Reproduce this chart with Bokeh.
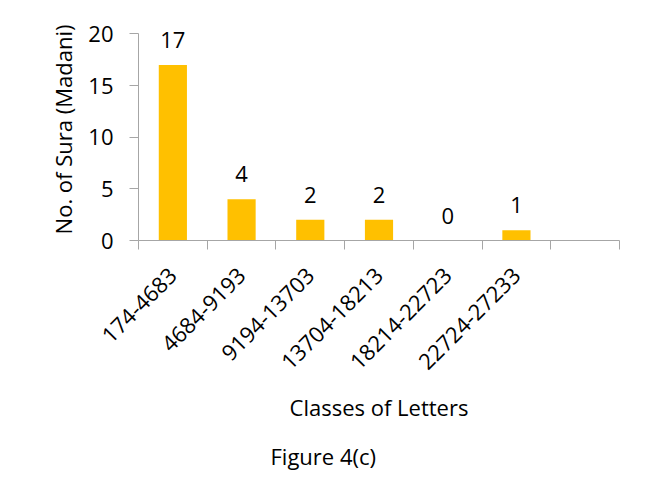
import math
from bokeh.plotting import figure
from bokeh.models import (ColumnDataSource, Range1d, FixedTicker, LabelSet, Title)
from bokeh.core.properties import value
from bokeh.embed import file_html
from bokeh.resources import INLINE

# ---- data ----
classes = ["174-4683", "4684-9193", "9194-13703", "13704-18213", "18214-22723", "22724-27233"]
num_sura = [17, 4, 2, 2, 0, 1]
y_ticks = [0, 5, 10, 15, 20]
y_max = 20
n_slots = len(classes) + 1  # chart shows one extra empty category slot

FONT = "Open Sans"
FS = "22px"
BAR = "#FFC000"
AXIS = "#a6a6a6"

xs = list(range(len(classes)))
src = ColumnDataSource(dict(x=xs, y=num_sura, lbl=[str(v) for v in num_sura]))

# the frame is extended a little above the axis top so the "17" label is not clipped
p = figure(width=642, height=489, output_backend="svg", toolbar_location=None,
           x_range=Range1d(-0.5, n_slots - 0.5), y_range=Range1d(0, y_max * 1.075),
           min_border_left=138, min_border_right=23, min_border_top=18,
           min_border_bottom=249)
p.outline_line_color = None
p.xgrid.visible = False
p.ygrid.visible = False

p.vbar(x="x", top="y", width=0.41, source=src, fill_color=BAR, line_color=None)

labels = LabelSet(x="x", y="y", text="lbl", source=src, text_align="center",
                  text_baseline="alphabetic", y_offset=17, text_font=value(FONT),
                  text_font_size=value(FS), text_color="#000000")
p.add_layout(labels)

# x axis
xa = p.xaxis[0]
xa.ticker = FixedTicker(ticks=xs, minor_ticks=[i - 0.5 for i in range(n_slots + 1)])
xa.major_label_overrides = {i: c for i, c in enumerate(classes)}
xa.major_label_orientation = math.pi / 4
xa.major_tick_line_color = None
xa.minor_tick_line_color = AXIS
xa.minor_tick_out = 9
xa.minor_tick_in = 0
xa.axis_line_color = AXIS
xa.major_label_text_font = FONT
xa.major_label_text_font_size = FS
xa.major_label_text_color = "#000000"
xa.major_label_standoff = 22
xa.axis_label = "Classes of Letters"
xa.axis_label_text_font = FONT
xa.axis_label_text_font_size = FS
xa.axis_label_text_font_style = "normal"
xa.axis_label_text_color = "#000000"
xa.axis_label_standoff = 12

# y axis
ya = p.yaxis[0]
ya.bounds = (0, y_max)
ya.ticker = FixedTicker(ticks=y_ticks)
ya.minor_tick_line_color = None
ya.major_tick_out = 9
ya.major_tick_in = 0
ya.major_tick_line_color = AXIS
ya.axis_line_color = AXIS
ya.major_label_text_font = FONT
ya.major_label_text_font_size = FS
ya.major_label_text_color = "#000000"
ya.major_label_standoff = 16
ya.axis_label = "No. of Sura (Madani)"
ya.axis_label_text_font = FONT
ya.axis_label_text_font_size = FS
ya.axis_label_text_font_style = "normal"
ya.axis_label_text_color = "#000000"
ya.axis_label_standoff = 7

cap = Title(text="Figure 4(c)", align="left", offset=132, standoff=29,
            text_font=FONT, text_font_size=FS, text_font_style="normal",
            text_color="#000000")
p.add_layout(cap, "below")

open("out.html", "w").write(file_html(p, INLINE))
